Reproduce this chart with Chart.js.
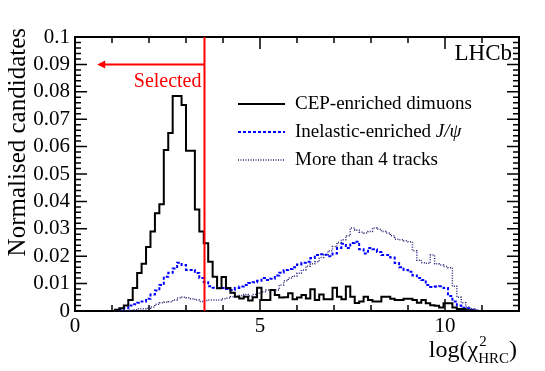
<!DOCTYPE html>
<html lang="en">
<head>
<meta charset="UTF-8">
<title>log chi2 HRC</title>
<script src="https://cdn.jsdelivr.net/npm/chart.js@4.4.1/dist/chart.umd.min.js"></script>
<style>
    body { margin: 0; background: #fff; }
</style>
</head>
<body>
<canvas id="chart" width="545" height="371"></canvas>
<script>
    // histogram binning: 100 bins over 0..12
    const binWidth = 0.12;

    const cepValues = [0, 0, 0, 0, 0, 0, 0, 0, 0, 0.0005,
        0.001, 0.002, 0.004, 0.0084, 0.0139, 0.0172, 0.0234, 0.029, 0.0357, 0.039,
        0.0588, 0.065, 0.0785, 0.0785, 0.0752, 0.0585, 0.0585, 0.037, 0.029, 0.0247,
        0.018, 0.0125, 0.0083, 0.0124, 0.0084, 0.0067, 0.0052, 0.0046, 0.0052, 0.0038,
        0.005, 0.0085, 0.004, 0.004, 0.0077, 0.0058, 0.0049, 0.005, 0.0065, 0.0043,
        0.0049, 0.0058, 0.0046, 0.0079, 0.004, 0.006, 0.0043, 0.0043, 0.0085, 0.0052,
        0.0043, 0.0089, 0.0052, 0.0029, 0.0035, 0.0052, 0.004, 0.0035, 0.0035, 0.0052,
        0.0052, 0.0045, 0.004, 0.004, 0.0045, 0.0045, 0.004, 0.003, 0.004, 0.0028,
        0.0021, 0.0019, 0.0013, 0.0028, 0.0028, 0.0013, 0.0007, 0.0007, 0.0003, 0.0002,
        0, 0, 0, 0, 0, 0, 0, 0, 0, 0];

    const inelasticValues = [0, 0, 0, 0, 0, 0, 0, 0, 0, 0.0003,
        0.0006, 0.001, 0.002, 0.0025, 0.003, 0.0035, 0.0045, 0.006, 0.0075, 0.0095,
        0.0125, 0.014, 0.0155, 0.0176, 0.0168, 0.015, 0.015, 0.0139, 0.012, 0.0105,
        0.009, 0.0085, 0.0084, 0.0084, 0.008, 0.0077, 0.0084, 0.0089, 0.0095, 0.0102,
        0.0105, 0.011, 0.012, 0.0113, 0.0118, 0.013, 0.014, 0.015, 0.0153, 0.016,
        0.017, 0.0176, 0.018, 0.0193, 0.0204, 0.0207, 0.0205, 0.02, 0.021, 0.023,
        0.0245, 0.023, 0.0248, 0.0253, 0.0225, 0.021, 0.023, 0.0225, 0.0215, 0.0204,
        0.0204, 0.0195, 0.0175, 0.016, 0.015, 0.0143, 0.013, 0.012, 0.0113, 0.0095,
        0.0088, 0.0089, 0.009, 0.0084, 0.0055, 0.0035, 0.002, 0.0012, 0.001, 0.0005,
        0.0002, 0, 0, 0, 0, 0, 0, 0, 0, 0];

    const multiTrackValues = [0, 0, 0, 0, 0, 0, 0, 0, 0, 0,
        0, 0, 0.0003, 0.0005, 0.0008, 0.0008, 0.001, 0.0015, 0.0025, 0.003,
        0.0032, 0.0034, 0.004, 0.0047, 0.005, 0.0048, 0.0045, 0.004, 0.0035, 0.0038,
        0.004, 0.004, 0.004, 0.0045, 0.0047, 0.0052, 0.0054, 0.0057, 0.006, 0.0055,
        0.006, 0.0065, 0.007, 0.0077, 0.0077, 0.0077, 0.0095, 0.011, 0.012, 0.0128,
        0.0138, 0.015, 0.0163, 0.0172, 0.018, 0.0195, 0.0205, 0.022, 0.0235, 0.025,
        0.026, 0.0275, 0.0303, 0.0295, 0.0287, 0.0285, 0.029, 0.0303, 0.0298, 0.029,
        0.0285, 0.0275, 0.0262, 0.026, 0.0256, 0.0253, 0.022, 0.0185, 0.0176, 0.0174,
        0.0204, 0.0172, 0.0168, 0.0162, 0.0158, 0.009, 0.005, 0.003, 0.0015, 0.0007,
        0.0003, 0, 0, 0, 0, 0, 0, 0, 0, 0];

    const seriesLabels = ['CEP-enriched dimuons', 'Inelastic-enriched ', 'More than 4 tracks'];
    const xTickLabels = [0, 5, 10];
    const selectionCut = 3.5;
    const arrowTip = 0.6;
    const arrowLevel = 0.09;

    const serif = "'Liberation Serif', 'Times New Roman', serif";
    const dottedColor = '#26267a';

    function toSteps(values) {
        let pts = values.map((v, i) => ({x: i * binWidth, y: v}));
        pts.push({x: values.length * binWidth, y: values[values.length - 1]});
        return pts;
    }

    // ROOT style frame with ticks on the inside of all four sides
    const frameTicks = {
        id: 'frameTicks',
        beforeDatasetsDraw(chart) {
            const ctx = chart.ctx, a = chart.chartArea;
            const xs = chart.scales.x, ys = chart.scales.y;
            ctx.save();
            ctx.strokeStyle = '#000';
            ctx.lineWidth = 1.5;
            ctx.beginPath();
            for (let i = 0; i <= 50; i++) {
                let py = ys.getPixelForValue(i * 0.002);
                let len = i % 5 === 0 ? 12 : 6;
                ctx.moveTo(a.left, py); ctx.lineTo(a.left + len, py);
                ctx.moveTo(a.right, py); ctx.lineTo(a.right - len, py);
            }
            for (let v = 0; v <= 12; v++) {
                let px = xs.getPixelForValue(v);
                let len = v % 5 === 0 ? 12 : 6;
                ctx.moveTo(px, a.bottom); ctx.lineTo(px, a.bottom - len);
                ctx.moveTo(px, a.top); ctx.lineTo(px, a.top + len);
            }
            ctx.stroke();
            ctx.lineWidth = 2;
            ctx.strokeRect(a.left, a.top, a.right - a.left, a.bottom - a.top);
            ctx.restore();
        },
        afterDatasetsDraw(chart) {
            const ctx = chart.ctx, a = chart.chartArea;
            const xs = chart.scales.x, ys = chart.scales.y;
            ctx.save();

            // selection cut and arrow
            let cx = xs.getPixelForValue(selectionCut);
            let ay = ys.getPixelForValue(arrowLevel);
            let tip = xs.getPixelForValue(arrowTip);
            ctx.strokeStyle = '#ff0000';
            ctx.fillStyle = '#ff0000';
            ctx.lineWidth = 2;
            ctx.beginPath();
            ctx.moveTo(cx, a.bottom); ctx.lineTo(cx, a.top);
            ctx.moveTo(cx, ay); ctx.lineTo(tip + 6, ay);
            ctx.stroke();
            ctx.beginPath();
            ctx.moveTo(tip, ay);
            ctx.lineTo(tip + 8, ay - 4);
            ctx.lineTo(tip + 8, ay + 4);
            ctx.closePath();
            ctx.fill();
            ctx.font = '20px ' + serif;
            ctx.textAlign = 'right';
            ctx.textBaseline = 'alphabetic';
            ctx.fillText('Selected', cx - 3, 87);

            // LHCb label
            ctx.fillStyle = '#000';
            ctx.font = '23px ' + serif;
            ctx.fillText('LHCb', 512, 60);

            // legend
            const rows = [104, 132, 160];
            const styles = [
                {color: '#000000', dash: [], width: 2},
                {color: '#0000ff', dash: [3, 2], width: 2},
                {color: dottedColor, dash: [1, 1.5], width: 1.5}
            ];
            ctx.textAlign = 'left';
            ctx.textBaseline = 'middle';
            rows.forEach((ry, i) => {
                ctx.strokeStyle = styles[i].color;
                ctx.lineWidth = styles[i].width;
                ctx.setLineDash(styles[i].dash);
                ctx.beginPath();
                ctx.moveTo(238, ry); ctx.lineTo(285, ry);
                ctx.stroke();
                ctx.setLineDash([]);
                ctx.fillStyle = '#000';
                ctx.font = '19px ' + serif;
                ctx.fillText(seriesLabels[i], 295, ry);
                if (i === 1) {
                    let w = ctx.measureText(seriesLabels[i]).width;
                    ctx.font = 'italic 19px ' + serif;
                    ctx.fillText('J/\u03C8', 295 + w, ry);
                }
            });

            // y axis title
            ctx.save();
            ctx.translate(25, 28);
            ctx.rotate(-Math.PI / 2);
            ctx.textAlign = 'right';
            ctx.textBaseline = 'alphabetic';
            ctx.font = '25px ' + serif;
            ctx.fillText('Normalised candidates', 0, 0);
            ctx.restore();

            // x axis title: log(chi^2_HRC), right aligned
            ctx.textBaseline = 'alphabetic';
            ctx.textAlign = 'left';
            const big = '24px ' + serif, small = '15px ' + serif;
            ctx.font = big;
            let w1 = ctx.measureText('log(\u03C7').width;
            let w3 = ctx.measureText(')').width;
            ctx.font = small;
            let w2 = ctx.measureText('HRC').width;
            let base = 357;
            let x0 = 517 - w1 - w2 - w3;
            ctx.font = big;
            ctx.fillText('log(\u03C7', x0, base);
            ctx.font = small;
            ctx.fillText('2', x0 + w1 + 1, base - 11);
            ctx.fillText('HRC', x0 + w1, base + 6);
            ctx.font = big;
            ctx.fillText(')', x0 + w1 + w2, base);

            ctx.restore();
        }
    };

    new Chart(document.getElementById('chart'), {
        type: 'line',
        data: {
            datasets: [
                {
                    label: seriesLabels[2],
                    data: toSteps(multiTrackValues),
                    borderColor: dottedColor,
                    borderWidth: 1.5,
                    borderDash: [1, 1.5],
                    stepped: true,
                    pointRadius: 0,
                    fill: false,
                    order: 3
                },
                {
                    label: seriesLabels[1],
                    data: toSteps(inelasticValues),
                    borderColor: '#0000ff',
                    borderWidth: 2,
                    borderDash: [3, 2],
                    stepped: true,
                    pointRadius: 0,
                    fill: false,
                    order: 2
                },
                {
                    label: seriesLabels[0],
                    data: toSteps(cepValues),
                    borderColor: '#000000',
                    borderWidth: 2,
                    stepped: true,
                    pointRadius: 0,
                    fill: false,
                    order: 1
                }
            ]
        },
        options: {
            responsive: false,
            animation: false,
            layout: {padding: {top: 37, right: 26, left: 0, bottom: 0}},
            plugins: {
                legend: {display: false},
                tooltip: {enabled: false}
            },
            scales: {
                x: {
                    type: 'linear',
                    min: 0,
                    max: 12,
                    grid: {display: false, drawTicks: false},
                    border: {display: false},
                    afterFit: s => { s.height = 60; },
                    ticks: {
                        stepSize: 1,
                        autoSkip: false,
                        maxRotation: 0,
                        padding: 3,
                        color: '#000',
                        font: {family: serif, size: 21},
                        callback: v => xTickLabels.includes(v) ? String(v) : ''
                    }
                },
                y: {
                    min: 0,
                    max: 0.1,
                    grid: {display: false, drawTicks: false},
                    border: {display: false},
                    afterFit: s => { s.width = 75; },
                    ticks: {
                        stepSize: 0.01,
                        autoSkip: false,
                        padding: 5,
                        color: '#000',
                        font: {family: serif, size: 21},
                        callback: v => String(Math.round(v * 100) / 100)
                    }
                }
            }
        },
        plugins: [frameTicks]
    });
</script>
</body>
</html>
